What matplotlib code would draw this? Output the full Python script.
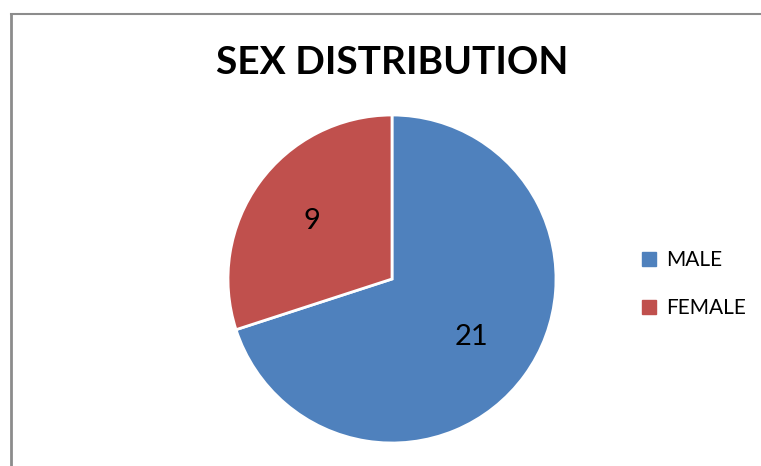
import matplotlib
matplotlib.use("Agg")
from matplotlib import pyplot as plt
from matplotlib.lines import Line2D

plt.rcParams['font.family'] = ['Lato', 'DejaVu Sans']

categories = ["MALE", "FEMALE"]
counts = [21, 9]
colors = ["#4F81BD", "#C0504D"]

W, H = 761, 466
fig = plt.figure(figsize=(W / 100, H / 100), dpi=100)

# frame lines of the original chart box
fig.add_artist(Line2D([11 / W, 11 / W], [0, 1 - 14 / H], color="#8c8c8c", lw=2))
fig.add_artist(Line2D([11 / W, 1], [1 - 14 / H, 1 - 14 / H], color="#8c8c8c", lw=1.5))

cx, cy, r = 392, 279, 164
ax = fig.add_axes([(cx - r) / W, (H - cy - r) / H, 2 * r / W, 2 * r / H])
total = sum(counts)
wedges, texts, autotexts = ax.pie(
    counts, colors=colors, startangle=90, counterclock=False,
    autopct=lambda p: f"{round(p * total / 100)}", pctdistance=0.6,
    wedgeprops=dict(edgecolor="white", linewidth=2),
    textprops=dict(fontsize=21, color="black"))
ax.set_xlim(-1, 1)
ax.set_ylim(-1, 1)
ax.set_aspect("equal")

fig.text(cx / W, 1 - 62 / H, "SEX DISTRIBUTION", ha="center", va="center",
         fontsize=28, fontweight="bold")

handles = [Line2D([], [], linestyle="none", marker="s", markersize=9.5,
                  markerfacecolor=c, markeredgecolor=c) for c in colors]
fig.legend(handles, categories, loc="center left", bbox_to_anchor=(622 / W, 1 - 284 / H),
           frameon=False, fontsize=15, handlelength=0.8,
           labelspacing=1.35, handletextpad=0.4)

fig.savefig("out.png", dpi=100)
